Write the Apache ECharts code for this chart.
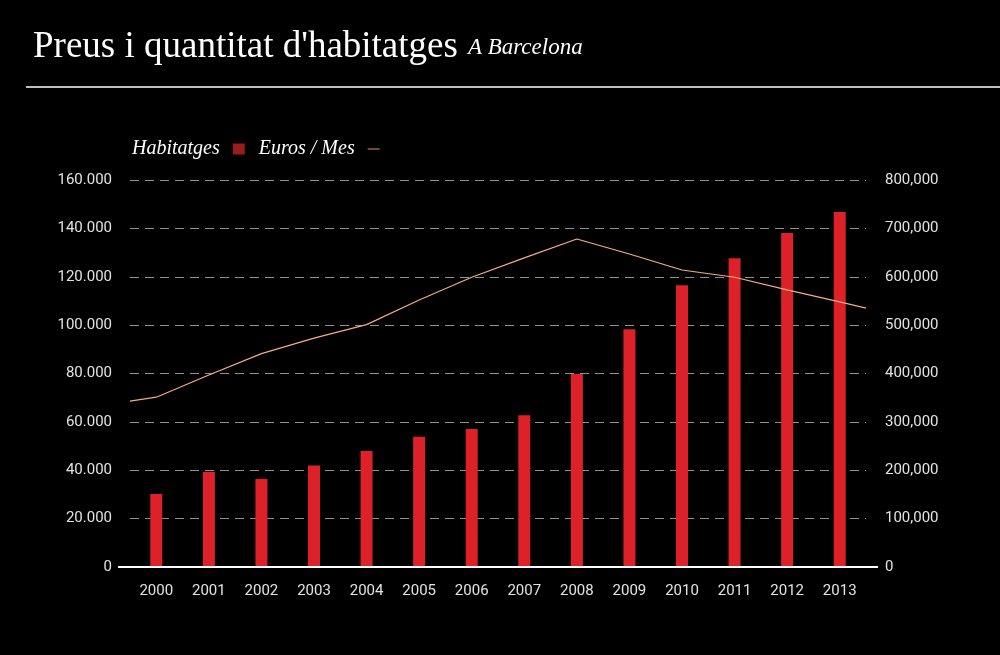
<!DOCTYPE html>
<html>
<head>
<meta charset="utf-8">
<title>Preus i quantitat d'habitatges</title>
<script src="https://cdn.jsdelivr.net/npm/echarts@6/dist/echarts.min.js"></script>
<style>
  html, body { margin: 0; padding: 0; background: #000; }
  #chart { width: 1000px; height: 655px; }
</style>
</head>
<body>
<div id="chart"></div>
<script>
// dades llegides del gràfic
const years = ['2000', '2001', '2002', '2003', '2004', '2005', '2006',
  '2007', '2008', '2009', '2010', '2011', '2012', '2013'];
const habitatges = [30200, 39300, 36400, 42000, 48000, 53900, 57100,
  62700, 79800, 98300, 116500, 127600, 138100, 146800];
// la línia comença i acaba a les vores del gràfic (posicions -0.5 i 13.5)
const lineX = [-0.5, 0, 1, 2, 3, 4, 5, 6, 7, 8, 9, 10, 11, 12, 13, 13.5];
const eurosMes = [343000, 351000, 397000, 441000, 473000, 501000, 552000,
  599000, 639000, 678000, 647000, 614000, 599000, 573000, 548000, 535000];

const chart = echarts.init(document.getElementById('chart'));

const lblStyle = { color: '#e2e2e2', fontFamily: 'Roboto', fontSize: 15 };

const option = {
  backgroundColor: '#000',
  animation: false,
  title: {
    text: "{a|Preus i quantitat d'habitatges}{b|A Barcelona}",
    left: 28,
    top: 24,
    textStyle: {
      fontWeight: 'normal',
      rich: {
        a: { fontFamily: 'Liberation Serif', fontWeight: 'normal', fontSize: 37, color: '#fff' },
        b: { fontFamily: 'Liberation Serif', fontWeight: 'normal', fontStyle: 'italic', fontSize: 23,
             color: '#fff', padding: [0, 0, 0, 10] }
      }
    }
  },
  legend: {
    left: 127,
    top: 134,
    align: 'right',
    itemGap: 14,
    itemWidth: 12,
    itemHeight: 11,
    textStyle: {
      fontFamily: 'Liberation Serif', fontStyle: 'italic', fontSize: 20, color: '#fff',
      padding: [0, 8, 0, 0]
    },
    data: [
      { name: 'Habitatges', icon: 'rect', itemStyle: { color: '#9a1c1c' } },
      { name: 'Euros / Mes', icon: 'path://M0,0H14V1.4H0Z', itemStyle: { color: '#c2705f' } }
    ]
  },
  grid: { left: 130, right: 134, top: 180, bottom: 88 },
  xAxis: [
    {
      type: 'category',
      data: years,
      axisLine: { show: false },
      axisTick: { show: false },
      axisLabel: Object.assign({ margin: 17 }, lblStyle)
    },
    {
      type: 'value',
      min: -0.5,
      max: 13.5,
      show: false
    }
  ],
  yAxis: [
    {
      type: 'value',
      min: 0,
      max: 160000,
      interval: 20000,
      axisLine: { show: false },
      axisTick: { show: false },
      axisLabel: Object.assign({
        margin: 18,
        formatter: v => v === 0 ? '0' : String(v).replace(/\B(?=(\d{3})+(?!\d))/g, '.')
      }, lblStyle),
      splitLine: { lineStyle: { color: '#909090', type: [9, 6], width: 1 } }
    },
    {
      type: 'value',
      min: 0,
      max: 800000,
      interval: 100000,
      axisLine: { show: false },
      axisTick: { show: false },
      axisLabel: Object.assign({
        margin: 19,
        formatter: v => v === 0 ? '0' : String(v).replace(/\B(?=(\d{3})+(?!\d))/g, ',')
      }, lblStyle),
      splitLine: { show: false }
    }
  ],
  graphic: [
    // línia sota el títol
    { type: 'line', shape: { x1: 26, y1: 87, x2: 1000, y2: 87 }, style: { stroke: '#fff', lineWidth: 1.5 } },
    // eix x, una mica més llarg que la graella
    { type: 'line', shape: { x1: 118, y1: 567, x2: 878, y2: 567 }, style: { stroke: '#fff', lineWidth: 2 }, z: 10 }
  ],
  series: [
    {
      name: 'Habitatges',
      type: 'bar',
      data: habitatges,
      barWidth: 12,
      itemStyle: { color: '#dc2129' }
    },
    {
      name: 'Euros / Mes',
      type: 'line',
      xAxisIndex: 1,
      yAxisIndex: 1,
      data: lineX.map((x, i) => [x, eurosMes[i]]),
      symbol: 'none',
      lineStyle: { color: '#f2ad85', width: 1.2 },
      z: 5
    }
  ]
};

chart.setOption(option);
</script>
</body>
</html>
